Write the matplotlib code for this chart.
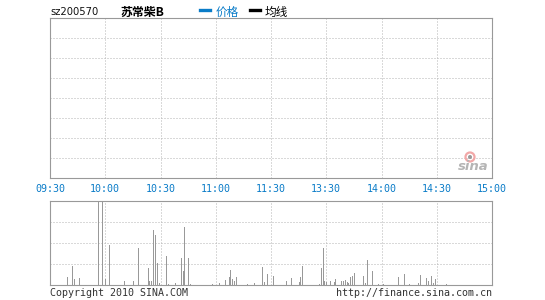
import matplotlib
matplotlib.use("Agg")
import matplotlib.pyplot as plt
from matplotlib.patches import Circle
from matplotlib.transforms import IdentityTransform

# ---- data ----
time_labels = ["09:30", "10:00", "10:30", "11:00", "11:30", "13:30", "14:00", "14:30", "15:00"]
minutes = [9, 12, 13, 16, 26, 28, 30, 32, 40, 45, 48, 53, 54, 55, 56, 57, 58, 59,
           63, 64, 68, 71, 72, 73, 75, 76, 88, 92, 95, 97, 98, 99, 100, 101, 107,
           111, 115, 116, 118, 121, 128, 131, 135, 136, 137, 146, 147, 148, 149,
           150, 152, 154, 155, 158, 159, 160, 161, 162, 163, 164, 165, 170, 171,
           172, 175, 178, 181, 189, 192, 195, 200, 201, 204, 205, 207, 208, 209, 215]
volumes = [8, 19, 6, 7, 84, 84, 6, 40, 4, 4, 37, 17, 4, 4, 55, 50, 22, 2,
           29, 1, 2, 27, 14, 58, 27, 1, 1, 2, 5, 8, 15, 6, 4, 8, 1,
           2, 18, 3, 11, 9, 4, 7, 3, 8, 19, 1, 17, 37, 4,
           3, 4, 3, 6, 4, 4, 5, 3, 2, 8, 9, 12, 9, 2,
           25, 14, 1, 1, 8, 11, 1, 2, 10, 7, 4, 9, 2, 6, 1]
code = "sz200570"
name = "苏常柴B"

W, H = 545, 300
fig = plt.figure(figsize=(W / 100, H / 100), dpi=100)
fig.patch.set_facecolor("white")

def px_axes(x0, y0, x1, y1):
    return fig.add_axes([x0 / W, 1 - y1 / H, (x1 - x0) / W, (y1 - y0) / H])

frame_c = "#999999"
grid_c = "#b4b4b4"
blue = "#0a7cc8"

ax1 = px_axes(50, 18, 492, 178)
ax2 = px_axes(50, 201, 492, 285)

for ax in (ax1, ax2):
    ax.set_xlim(0, 240)
    ax.set_xticks(range(0, 241, 30))
    for s in ax.spines.values():
        s.set_color(frame_c)
        s.set_linewidth(0.8)
    ax.tick_params(length=0, left=False, labelleft=False)
    ax.grid(True, color=grid_c, linestyle=(0, (1, 2)), linewidth=0.72)
    ax.set_axisbelow(True)

ax1.set_ylim(0, 8)
ax1.set_yticks(range(1, 8))
ax1.set_xticklabels(time_labels, family="DejaVu Sans Mono", fontsize=7.2, color=blue)
ax1.tick_params(axis="x", pad=4.5)

ax2.set_ylim(0, 84)
ax2.set_yticks([21, 42, 63])
ax2.tick_params(labelbottom=False)
ax2.vlines(minutes, 0, volumes, color="#999999", linewidth=0.72, antialiased=False)

# header
fig.text(50 / W, 1 - 12 / H, code, fontsize=7.2, family="DejaVu Sans",
         color="#111111", va="center", ha="left")
fig.text(120 / W, 1 - 12 / H, name, fontsize=8.6, family=["Noto Sans CJK SC", "DejaVu Sans"],
         color="#000000", va="center", ha="left", fontweight="bold")
fig.add_artist(plt.Line2D([200 / W, 210 / W], [1 - 10 / H, 1 - 10 / H], color=blue, lw=2.4))
fig.text(216 / W, 1 - 12 / H, "价格", fontsize=8.4, family=["Noto Sans CJK SC", "DejaVu Sans"],
         color=blue, va="center", ha="left")
fig.add_artist(plt.Line2D([250 / W, 260 / W], [1 - 10 / H, 1 - 10 / H], color="black", lw=2.4))
fig.text(265 / W, 1 - 12 / H, "均线", fontsize=8.4, family=["Noto Sans CJK SC", "DejaVu Sans"],
         color="black", va="center", ha="left")

# footer
fig.text(50 / W, 1 - 293 / H, "Copyright 2010 SINA.COM", fontsize=7.2,
         family="DejaVu Sans Mono", color="#333333", va="center", ha="left")
fig.text(492 / W, 1 - 293 / H, "http://finance.sina.com.cn", fontsize=7.2,
         family="DejaVu Sans Mono", color="#333333", va="center", ha="right")

# sina watermark
fig.add_artist(Circle((470, H - 157), 4.5, transform=IdentityTransform(),
                      facecolor="none", edgecolor="#f2a8a8", lw=1.6))
fig.add_artist(Circle((470, H - 157), 2.0, transform=IdentityTransform(),
                      facecolor="#9a9a9a", edgecolor="none"))
fig.text(473 / W, 1 - 166 / H, "sina", fontsize=9.5, family="DejaVu Sans",
         fontstyle="italic", fontweight="bold", color="#b5b5b5", va="center", ha="center")

fig.savefig("out.png", dpi=100)
